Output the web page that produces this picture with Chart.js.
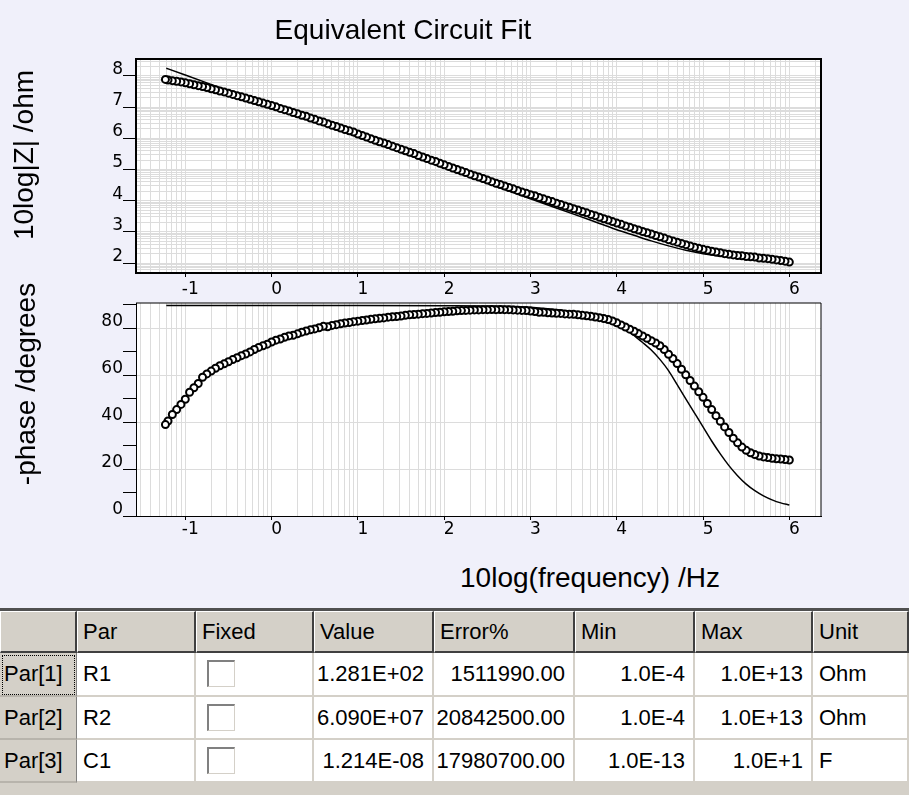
<!DOCTYPE html>
<html>
<head>
<meta charset="utf-8">
<title>Equivalent Circuit Fit</title>
<script src="https://cdn.jsdelivr.net/npm/chart.js@4.4.1/dist/chart.umd.min.js"></script>
<style>
  html, body { margin: 0; padding: 0; }
  body {
    width: 909px; height: 795px; overflow: hidden; position: relative;
    background: #f0f0fa; font-family: 'Liberation Sans', Arial, sans-serif; color: #000;
  }
  canvas { position: absolute; left: 0; }
  #magChart { top: 0; }
  #phaseChart { top: 290px; }
  .lbl { position: absolute; font-size: 28px; line-height: 28px; white-space: nowrap; }
  .rot { transform: translate(-50%, -50%) rotate(-90deg); }
  .c { position: absolute; box-sizing: border-box; display: flex; align-items: center;
       font-size: 22px; white-space: nowrap; overflow: hidden; }
  .hdr { background: #d4d0c8; border-top: 1px solid #fff; border-left: 1px solid #fff;
         border-right: 2px solid #404040; border-bottom: 2px solid #404040; padding-left: 5px; }
  .rowhdr { background: #d4d0c8; border-right: 1px solid #808080; border-bottom: 2px solid #b8b4ac;
            padding-left: 4px; }
  .cell { background: #fff; border-right: 2px solid #d4d0c8; border-bottom: 2px solid #d4d0c8; padding-left: 6px; }
  .num { justify-content: flex-end; padding-right: 8px; padding-left: 0; }
  .chk { position: absolute; width: 28px; height: 27px; box-sizing: border-box; background: #fff;
         border-top: 2px solid #808080; border-left: 2px solid #808080;
         border-right: 1px solid #d4d0c8; border-bottom: 1px solid #d4d0c8; }
</style>
</head>
<body>
<canvas id="magChart" width="909" height="300"></canvas>
<canvas id="phaseChart" width="909" height="260"></canvas>

<div class="lbl" style="left:403px; top:16px; transform:translateX(-50%);">Equivalent Circuit Fit</div>
<div class="lbl rot" style="left:24px; top:155px;">10log|Z| /ohm</div>
<div class="lbl rot" style="left:26px; top:384px;">-phase /degrees</div>
<div class="lbl" style="left:590px; top:564px; transform:translateX(-50%);">10log(frequency) /Hz</div>

<div id="grid"></div>

<script>
const logFreq = [
  -1.23, -1.20, -1.15, -1.10, -1.05, -1.00, -0.95, -0.90, -0.85, -0.80,
  -0.75, -0.70, -0.65, -0.60, -0.55, -0.50, -0.45, -0.40, -0.35, -0.30,
  -0.25, -0.20, -0.15, -0.10, -0.05, 0.00, 0.05, 0.10, 0.15, 0.20,
  0.25, 0.30, 0.35, 0.40, 0.45, 0.50, 0.55, 0.60, 0.65, 0.70,
  0.75, 0.80, 0.85, 0.90, 0.95, 1.00, 1.05, 1.10, 1.15, 1.20,
  1.25, 1.30, 1.35, 1.40, 1.45, 1.50, 1.55, 1.60, 1.65, 1.70,
  1.75, 1.80, 1.85, 1.90, 1.95, 2.00, 2.05, 2.10, 2.15, 2.20,
  2.25, 2.30, 2.35, 2.40, 2.45, 2.50, 2.55, 2.60, 2.65, 2.70,
  2.75, 2.80, 2.85, 2.90, 2.95, 3.00, 3.05, 3.10, 3.15, 3.20,
  3.25, 3.30, 3.35, 3.40, 3.45, 3.50, 3.55, 3.60, 3.65, 3.70,
  3.75, 3.80, 3.85, 3.90, 3.95, 4.00, 4.05, 4.10, 4.15, 4.20,
  4.25, 4.30, 4.35, 4.40, 4.45, 4.50, 4.55, 4.60, 4.65, 4.70,
  4.75, 4.80, 4.85, 4.90, 4.95, 5.00, 5.05, 5.10, 5.15, 5.20,
  5.25, 5.30, 5.35, 5.40, 5.45, 5.50, 5.55, 5.60, 5.65, 5.70,
  5.75, 5.80, 5.85, 5.90, 5.95, 6.00
];
const magData = [
  7.89, 7.87, 7.85, 7.83, 7.81, 7.78, 7.75, 7.72, 7.69, 7.66,
  7.63, 7.59, 7.56, 7.52, 7.49, 7.45, 7.41, 7.37, 7.33, 7.29,
  7.25, 7.21, 7.17, 7.13, 7.09, 7.05, 7.01, 6.96, 6.92, 6.88,
  6.83, 6.79, 6.74, 6.71, 6.65, 6.61, 6.56, 6.52, 6.47, 6.42,
  6.38, 6.33, 6.28, 6.24, 6.20, 6.14, 6.09, 6.04, 5.99, 5.94,
  5.89, 5.85, 5.80, 5.75, 5.70, 5.65, 5.60, 5.55, 5.51, 5.45,
  5.40, 5.35, 5.30, 5.26, 5.20, 5.15, 5.10, 5.05, 5.00, 4.95,
  4.90, 4.85, 4.80, 4.76, 4.71, 4.66, 4.61, 4.56, 4.52, 4.47,
  4.42, 4.38, 4.33, 4.28, 4.24, 4.19, 4.16, 4.10, 4.06, 4.01,
  3.97, 3.92, 3.88, 3.83, 3.79, 3.74, 3.70, 3.65, 3.61, 3.56,
  3.52, 3.47, 3.42, 3.38, 3.33, 3.28, 3.24, 3.19, 3.15, 3.10,
  3.06, 3.01, 2.97, 2.93, 2.88, 2.84, 2.80, 2.75, 2.71, 2.67,
  2.63, 2.59, 2.55, 2.51, 2.47, 2.44, 2.41, 2.38, 2.35, 2.33,
  2.30, 2.28, 2.26, 2.24, 2.23, 2.21, 2.20, 2.19, 2.16, 2.15,
  2.14, 2.12, 2.10, 2.08, 2.06, 2.03
];
const phaseData = [
  39.0, 40.5, 43.3, 45.4, 47.6, 49.8, 52.8, 54.7, 56.5, 59.2,
  60.6, 61.8, 63.0, 64.1, 64.9, 65.8, 66.7, 67.5, 68.4, 69.1,
  70.0, 71.0, 71.9, 72.6, 73.3, 74.2, 75.0, 75.5, 76.2, 76.8,
  77.1, 77.7, 78.4, 78.9, 79.4, 79.8, 80.3, 80.9, 80.7, 81.3,
  81.6, 82.0, 82.3, 82.5, 82.9, 83.1, 83.4, 83.6, 83.9, 84.1,
  84.3, 84.5, 84.8, 85.0, 85.1, 85.3, 85.6, 85.8, 85.9, 86.1,
  86.3, 86.4, 86.6, 86.8, 86.9, 87.1, 87.2, 87.3, 87.5, 87.6,
  87.7, 87.8, 87.9, 87.9, 88.0, 88.0, 88.1, 88.0, 88.1, 88.0,
  88.0, 87.9, 87.8, 87.7, 87.6, 87.4, 87.2, 86.9, 86.9, 86.7,
  86.6, 86.5, 86.4, 86.2, 86.1, 86.0, 85.8, 85.6, 85.4, 85.2,
  84.9, 84.6, 84.2, 83.8, 83.2, 82.4, 81.5, 80.6, 79.7, 78.8,
  77.8, 76.8, 75.8, 74.8, 73.8, 72.6, 71.0, 69.0, 67.2, 65.0,
  62.6, 60.2, 57.8, 55.4, 53.0, 50.6, 48.0, 45.4, 42.8, 40.4,
  38.0, 35.6, 33.2, 31.2, 29.4, 28.0, 27.0, 26.2, 25.6, 25.2,
  24.9, 24.6, 24.4, 24.3, 24.1, 23.9
];

// fitted curves
const fitMagFreq = [-1.22, -1.0, -0.5, 0, 0.5, 1, 1.5, 2, 2.5, 3, 3.5, 3.8, 4, 4.2, 4.4, 4.6, 4.8, 5, 5.2, 5.4, 5.6, 5.8, 6];
const fitMag     = [8.25, 8.03, 7.53, 7.03, 6.54, 6.04, 5.55, 5.05, 4.56, 4.06, 3.57, 3.27, 3.07, 2.89, 2.71, 2.55, 2.41, 2.30, 2.22, 2.17, 2.14, 2.12, 2.11];
const fitPhaseFreq = [-1.22, 0, 1, 2, 2.5, 2.8, 3.0, 3.2, 3.4, 3.6, 3.8, 4.0, 4.1, 4.2, 4.3, 4.4, 4.5, 4.6, 4.7, 4.8, 4.9, 5.0, 5.1, 5.2, 5.3, 5.4, 5.5, 5.6, 5.7, 5.8, 5.9, 6.0];
const fitPhase     = [89.8, 89.8, 89.8, 89.7, 89.6, 89.4, 89.0, 88.4, 87.6, 86.4, 84.8, 82.4, 80.0, 77.0, 74.0, 70.8, 66.8, 62.0, 56.0, 50.0, 44.0, 38.0, 32.0, 26.5, 21.5, 17.2, 13.6, 10.8, 8.6, 6.9, 5.6, 4.7];

// axis ticks
const freqTicks = [-1, 0, 1, 2, 3, 4, 5, 6];
const magTicks = [2, 3, 4, 5, 6, 7, 8];
const phaseTicks = [0, 20, 40, 60, 80];
const phaseMarks = [0, 10, 20, 30, 40, 50, 60, 70, 80, 90];

// fit parameter table
const tableHeader = ['', 'Par', 'Fixed', 'Value', 'Error%', 'Min', 'Max', 'Unit'];
const parLabels = ['Par[1]', 'Par[2]', 'Par[3]'];
const parNames = ['R1', 'R2', 'C1'];
const parValues = ['1.281E+02', '6.090E+07', '1.214E-08'];
const parErrors = ['1511990.00', '20842500.00', '17980700.00'];
const parMins = ['1.0E-4', '1.0E-4', '1.0E-13'];
const parMaxs = ['1.0E+13', '1.0E+13', '1.0E+1'];
const parUnits = ['Ohm', 'Ohm', 'F'];

const FONT = "'Liberation Sans', Arial, sans-serif";
const TICK_FONT = { family: "'DejaVu Sans', sans-serif", size: 17 };
Chart.defaults.font.family = FONT;
Chart.defaults.color = '#000';

const isIn = (v, arr) => arr.some(t => Math.abs(t - v) < 1e-9);

// decade grid: lines at d + log10(k)
function logGrid(min, max) {
  const out = [];
  for (let d = Math.floor(min); d <= Math.ceil(max); d++) {
    for (let k = 1; k <= 9; k++) {
      const v = d + Math.log10(k);
      if (v > min && v < max) out.push(v);
    }
  }
  return out;
}

// circles drawn high frequency first, like the original
function scatterPoints(xs, ys) {
  const pts = xs.map((x, i) => ({ x: x, y: ys[i] }));
  return pts.reverse();
}
function linePoints(xs, ys) {
  return xs.map((x, i) => ({ x: x, y: ys[i] }));
}

const framePlugin = {
  id: 'frame',
  beforeDraw(chart) {
    const { ctx, chartArea: a } = chart;
    ctx.save();
    ctx.fillStyle = '#fff';
    ctx.fillRect(a.left, a.top, a.right - a.left, a.bottom - a.top);
    ctx.restore();
  },
  afterDatasetsDraw(chart, args, opts) {
    const { ctx, chartArea: a } = chart;
    ctx.save();
    ctx.strokeStyle = '#000';
    ctx.lineWidth = opts.width;
    ctx.beginPath();
    ctx.moveTo(a.left, a.top);
    ctx.lineTo(a.right, a.top);
    ctx.lineTo(a.right, a.bottom);
    ctx.stroke();
    ctx.restore();
  }
};

const X_MIN = -1.571, X_MAX = 6.367;

function freqAxis(borderWidth, pad, height) {
  return {
    type: 'linear', min: X_MIN, max: X_MAX,
    afterBuildTicks: s => { s.ticks = logGrid(X_MIN, X_MAX).map(v => ({ value: v })); },
    afterFit: s => { s.height = height; },
    grid: {
      color: '#dcdcdc',
      tickColor: c => (c.tick && isIn(c.tick.value, freqTicks)) ? '#000' : 'rgba(0,0,0,0)',
      tickLength: 4
    },
    border: { color: '#000', width: borderWidth },
    ticks: {
      autoSkip: false, maxRotation: 0, padding: pad, labelOffset: 5,
      font: TICK_FONT,
      callback: v => isIn(v, freqTicks) ? String(Math.round(v)) : ''
    }
  };
}

const commonOpts = {
  responsive: false,
  animation: false,
  events: [],
  plugins: { legend: { display: false }, tooltip: { enabled: false } }
};

const circleStyle = {
  showLine: false, pointStyle: 'circle', pointRadius: 3.5, borderWidth: 2,
  borderColor: '#000', backgroundColor: '#fff'
};
const lineStyle = {
  showLine: true, pointRadius: 0, borderColor: '#000', borderWidth: 1.5,
  cubicInterpolationMode: 'monotone', fill: false
};

const magMin = 1.68, magMax = 8.545;
new Chart(document.getElementById('magChart'), {
  type: 'scatter',
  plugins: [framePlugin],
  data: {
    datasets: [
      Object.assign({ label: 'measured', data: scatterPoints(logFreq, magData) }, circleStyle),
      Object.assign({ label: 'fit', data: linePoints(fitMagFreq, fitMag) }, lineStyle)
    ]
  },
  options: Object.assign({}, commonOpts, {
    layout: { padding: { top: 59, left: 0, right: 88, bottom: 0 } },
    plugins: Object.assign({}, commonOpts.plugins, { frame: { width: 2 } }),
    scales: {
      x: freqAxis(2, 2, 27),
      y: {
        type: 'linear', min: magMin, max: magMax,
        afterBuildTicks: s => { s.ticks = logGrid(magMin, magMax).map(v => ({ value: v })); },
        afterFit: s => { s.width = 136; },
        grid: {
          color: '#dcdcdc',
          tickColor: c => (c.tick && isIn(c.tick.value, magTicks)) ? '#000' : 'rgba(0,0,0,0)',
          tickLength: 13
        },
        border: { color: '#000', width: 2 },
        ticks: {
          autoSkip: false, padding: 0, labelOffset: -6.5,
          font: TICK_FONT,
          callback: v => isIn(v, magTicks) ? String(Math.round(v)) : ''
        }
      }
    }
  })
});

const phMin = 0, phMax = 90.85;
new Chart(document.getElementById('phaseChart'), {
  type: 'scatter',
  plugins: [framePlugin],
  data: {
    datasets: [
      Object.assign({ label: 'measured', data: scatterPoints(logFreq, phaseData) }, circleStyle),
      Object.assign({ label: 'fit', data: linePoints(fitPhaseFreq, fitPhase) }, lineStyle)
    ]
  },
  options: Object.assign({}, commonOpts, {
    layout: { padding: { top: 13, left: 0, right: 88, bottom: 0 } },
    plugins: Object.assign({}, commonOpts.plugins, { frame: { width: 1 } }),
    scales: {
      x: freqAxis(1, -1, 34),
      y: {
        type: 'linear', min: phMin, max: phMax,
        afterBuildTicks: s => { s.ticks = phaseMarks.map(v => ({ value: v })); },
        afterFit: s => { s.width = 136; },
        grid: {
          color: c => (c.tick && c.tick.value > 0 && isIn(c.tick.value, phaseTicks)) ? '#dcdcdc' : 'rgba(0,0,0,0)',
          tickColor: '#000',
          tickLength: 13
        },
        border: { color: '#000', width: 1 },
        ticks: {
          autoSkip: false, padding: 0, labelOffset: -6.5,
          font: TICK_FONT,
          callback: v => isIn(v, phaseTicks) ? String(v) : ''
        }
      }
    }
  })
});

// parameter grid below the charts
const colX = [0, 77, 196, 314, 434, 575, 695, 813, 909];
const rowY = [611, 653, 697, 740, 783];
const grid = document.getElementById('grid');

function addBox(cls, x0, y0, w, h, text) {
  const d = document.createElement('div');
  d.className = cls;
  d.style.left = x0 + 'px'; d.style.top = y0 + 'px';
  d.style.width = w + 'px'; d.style.height = h + 'px';
  if (text !== undefined) d.textContent = text;
  grid.appendChild(d);
  return d;
}

addBox('c', 0, 608, 909, 3).style.background = '#505050';
addBox('c', 0, 783, 909, 12).style.background = '#d4d0c8';

tableHeader.forEach((t, i) => {
  addBox('c hdr', colX[i], rowY[0], colX[i + 1] - colX[i], rowY[1] - rowY[0], t);
});

const numericCols = [3, 4, 5, 6];
for (let r = 0; r < parLabels.length; r++) {
  const y0 = rowY[r + 1], h = rowY[r + 2] - y0;
  const cells = [parLabels[r], parNames[r], '', parValues[r], parErrors[r], parMins[r], parMaxs[r], parUnits[r]];
  cells.forEach((t, i) => {
    let cls = i === 0 ? 'c rowhdr' : 'c cell';
    if (numericCols.includes(i)) cls += ' num';
    addBox(cls, colX[i], y0, colX[i + 1] - colX[i], h, t);
  });
  addBox('chk', colX[2] + 11, y0 + 7, 28, 27);
}
// focus rectangle on the first row header
const focus = addBox('c', 2, rowY[1] + 2, colX[1] - 4, rowY[2] - rowY[1] - 4);
focus.style.border = '1px dotted #000';
</script>
</body>
</html>
